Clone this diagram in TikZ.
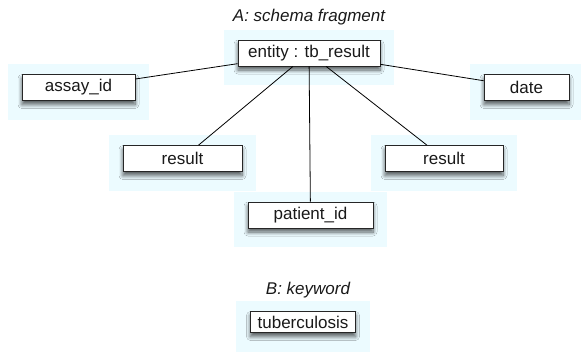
\documentclass[tikz,border=0pt]{standalone}
\usepackage{fontspec}
\setmainfont{Liberation Sans}
\usetikzlibrary{shadows.blur,backgrounds}
\definecolor{glowc}{RGB}{236,251,255}
\definecolor{txtc}{RGB}{25,25,25}
\tikzset{
  box/.style={draw=black!85, line width=0.9pt, fill=white, minimum height=26pt,
    inner sep=0pt, text=txtc, font=\fontsize{17}{20}\selectfont,
    blur shadow={shadow xshift=0pt, shadow yshift=-4pt, shadow blur radius=4pt, shadow opacity=65, shadow blur steps=8}},
  ttl/.style={text=txtc, font=\fontsize{17}{20}\selectfont\itshape, inner sep=0pt},
  link/.style={draw=black, line width=0.8pt},
  glow/.style={fill=glowc}
}
\begin{document}
\begin{tikzpicture}[x=1pt,y=-1pt]
\useasboundingbox (0,0) rectangle (581,357);
\node[ttl] (ta) at (309,17) {A: schema fragment};
\node[box, minimum width=142pt] (entity) at (309,53) {entity : tb\_result};
\node[box, minimum width=113pt] (assay) at (78.5,87.5) {assay\_id};
\node[box, minimum width=85pt] (date) at (526.5,87.5) {date};
\node[box, minimum width=119pt] (resL) at (182.5,158.5) {result};
\node[box, minimum width=118pt] (resR) at (444,158.5) {result};
\node[box, minimum width=125pt] (patient) at (310.5,215) {patient\_id};
\node[ttl] (tb) at (308,290) {B: keyword};
\node[box, minimum width=105pt, minimum height=21pt] (tuber) at (303,322) {tuberculosis};
\begin{scope}[on background layer]
  \foreach \n in {entity,assay,date,resL,resR,patient,tuber}
    \fill[glow] ([xshift=-14pt,yshift=10pt]\n.north west) rectangle ([xshift=14pt,yshift=-19pt]\n.south east);
\end{scope}
\draw[link] (entity) -- (assay);
\draw[link] (entity) -- (date);
\draw[link] (entity) -- (resL);
\draw[link] (entity) -- (resR);
\draw[link] (entity) -- (patient);
\end{tikzpicture}
\end{document}
